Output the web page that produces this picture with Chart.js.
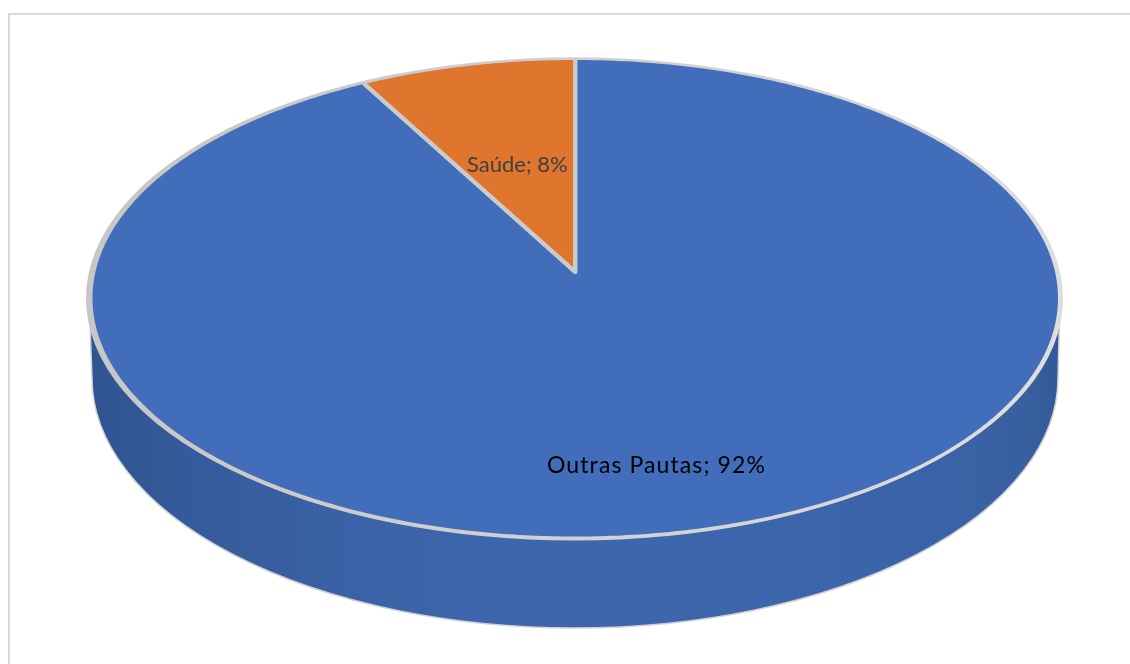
<!DOCTYPE html>
<html lang="pt">
<head>
  <meta charset="UTF-8">
  <title>Pautas</title>
  <script src="https://cdn.jsdelivr.net/npm/chart.js"></script>
  <style>
    html, body { margin: 0; padding: 0; background: #fff; overflow: hidden; }
    #frame { position: absolute; left: 8px; top: 13px; right: 0; bottom: 0; border-left: 2px solid #d9d9d9; border-top: 2px solid #d9d9d9; }
    #pie { position: absolute; left: 0; top: 0; }
  </style>
</head>
<body>
  <div id="frame"></div>
  <canvas id="pie" width="1130" height="664"></canvas>

  <script>
    const categories = ['Outras Pautas', 'Saúde'];
    const shares = [92, 8];
    const sliceColors = ['#416dba', '#e0752e'];
    const labelColors = ['#000000', '#404040'];

    // tilted disc: ellipse of the top face and where the circle centre lands
    const face = { cx: 575.25, rx: 482.75, top: 60, bottom: 536.5, apexY: 272 };
    const rim = { cx: 574.5, cy: 298.5, rx: 488.5, ry: 241.25 };
    const base = { cx: 575, cy: 378, rx: 483, ry: 250 };
    const labelStyles = [
      { x: 547, y: 466, font: '23px Lato, sans-serif', spacing: '1.1px' },
      { x: 467, y: 165, font: '22px Lato, sans-serif', spacing: '0px' }
    ];

    const up = face.apexY - face.top;
    const down = face.bottom - face.apexY;
    const k = (up - down) / (up + down);
    const B = up * (1 - k);
    const A = face.rx * Math.sqrt(1 - k * k);

    // perspective projection of a clock angle on the disc, radius 0..1
    function project(angle, r) {
      const x = Math.sin(angle) * r;
      const y = -Math.cos(angle) * r;
      const w = 1 + k * y;
      return { x: face.cx + A * x / w, y: face.apexY + B * y / w };
    }

    const discWall = {
      id: 'discWall',
      beforeDatasetsDraw(chart) {
        const ctx = chart.ctx;
        const grad = ctx.createLinearGradient(92, 0, 1058, 0);
        grad.addColorStop(0, '#2f5490');
        grad.addColorStop(0.11, '#365b9c');
        grad.addColorStop(0.32, '#3c64a9');
        grad.addColorStop(0.5, '#3e66ad');
        grad.addColorStop(0.74, '#3d65ab');
        grad.addColorStop(0.89, '#3a62a6');
        grad.addColorStop(0.97, '#38609f');
        grad.addColorStop(1, '#325a98');

        ctx.save();
        ctx.beginPath();
        ctx.moveTo(rim.cx - rim.rx + 3, rim.cy);
        ctx.ellipse(rim.cx, rim.cy, rim.rx - 3, rim.ry, 0, Math.PI, 0, true);
        ctx.lineTo(base.cx + base.rx, base.cy);
        ctx.ellipse(base.cx, base.cy, base.rx, base.ry, 0, 0, Math.PI, false);
        ctx.closePath();
        ctx.fillStyle = grad;
        ctx.fill();
        ctx.lineWidth = 1.5;
        ctx.strokeStyle = '#d2d2d2';
        ctx.stroke();

        // raised edge, darker on the left, paler towards the front and right
        const edge = ctx.createLinearGradient(86, 200, 1063, 400);
        edge.addColorStop(0, '#c6c6c6');
        edge.addColorStop(0.6, '#d2d2d2');
        edge.addColorStop(1, '#dedede');
        ctx.beginPath();
        ctx.ellipse(rim.cx, rim.cy, rim.rx, rim.ry, 0, 0, Math.PI * 2);
        ctx.fillStyle = edge;
        ctx.fill();
        ctx.restore();
      }
    };

    const discFace = {
      id: 'discFace',
      // the arcs keep their angles from the chart, only their outline is projected
      beforeDatasetDraw(chart, args) {
        const ctx = chart.ctx;
        const arcs = args.meta.data;
        const offset = Math.PI / 2;

        ctx.save();
        arcs.forEach((arc) => {
          const start = arc.startAngle + offset;
          const end = arc.endAngle + offset;
          const steps = Math.ceil((end - start) / 0.01);
          ctx.beginPath();
          ctx.moveTo(face.cx, face.apexY);
          for (let i = 0; i <= steps; i++) {
            const p = project(start + (end - start) * i / steps, 1);
            ctx.lineTo(p.x, p.y);
          }
          ctx.closePath();
          ctx.fillStyle = arc.options.backgroundColor;
          ctx.fill();
        });

        // spokes between the slices
        ctx.lineCap = 'round';
        ctx.lineJoin = 'round';
        arcs.forEach((arc) => {
          const a = project(arc.startAngle + offset, 1);
          const b = project(arc.endAngle + offset, 1);
          ctx.beginPath();
          ctx.moveTo(a.x, a.y);
          ctx.lineTo(face.cx, face.apexY);
          ctx.lineTo(b.x, b.y);
          ctx.lineWidth = arc.options.borderWidth;
          ctx.strokeStyle = arc.options.borderColor;
          ctx.stroke();
        });
        ctx.restore();
        return false;
      }
    };

    const sliceLabels = {
      id: 'sliceLabels',
      afterDatasetsDraw(chart) {
        const ctx = chart.ctx;
        ctx.save();
        ctx.textBaseline = 'middle';
        ctx.textAlign = 'left';
        categories.forEach((name, i) => {
          const s = labelStyles[i];
          ctx.font = s.font;
          ctx.letterSpacing = s.spacing;
          ctx.fillStyle = labelColors[i];
          ctx.fillText(name + '; ' + shares[i] + '%', s.x, s.y);
        });
        ctx.restore();
      }
    };

    new Chart(document.getElementById('pie'), {
      type: 'pie',
      data: {
        labels: categories,
        datasets: [{
          data: shares,
          backgroundColor: sliceColors,
          borderColor: '#cbcbcb',
          borderWidth: 4
        }]
      },
      options: {
        responsive: false,
        animation: false,
        plugins: { legend: { display: false }, tooltip: { enabled: false } }
      },
      plugins: [discWall, discFace, sliceLabels]
    });
  </script>
</body>
</html>
